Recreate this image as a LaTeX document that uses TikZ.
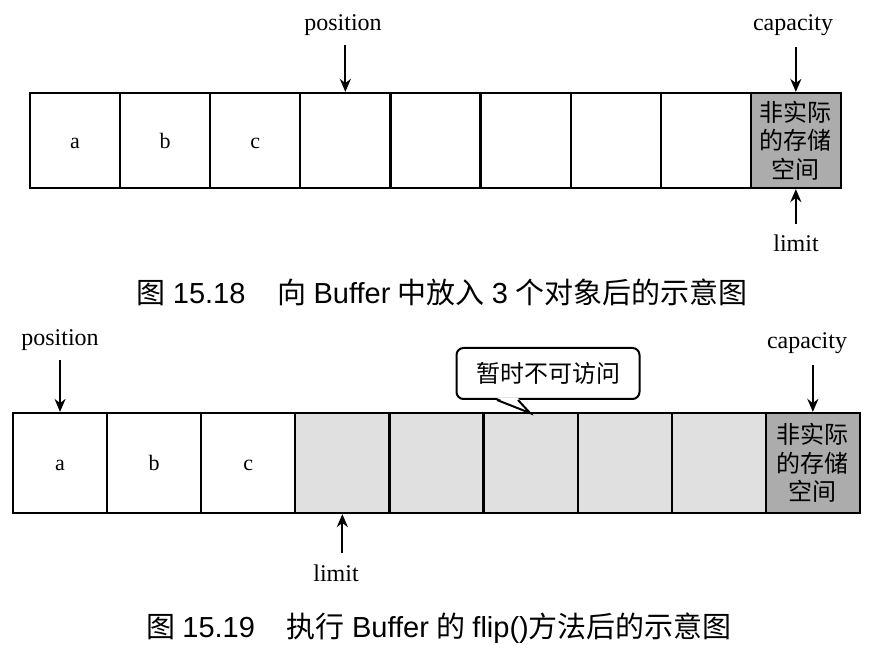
\documentclass[tikz,border=0pt]{standalone}
\usepackage{fontspec}
\setmainfont{Liberation Serif}
\newfontfamily\cjk{Noto Sans CJK SC}
\newfontfamily\arial{Liberation Sans}
\usetikzlibrary{arrows.meta}
\definecolor{lightg}{RGB}{224,224,224}
\definecolor{darkg}{RGB}{172,172,172}
\tikzset{
  cellA/.style={draw, line width=2.2pt, minimum width=90.1pt, minimum height=95pt, inner sep=0pt, font=\fontsize{22}{26}\selectfont, text height=16pt, text depth=0pt},
  cellB/.style={draw, line width=2.2pt, minimum width=94.1pt, minimum height=100pt, inner sep=0pt, font=\fontsize{22}{26}\selectfont, text height=16pt, text depth=0pt},
  cjkcell/.style={align=center, text height=, text depth=, font=\cjk\fontsize{24}{28.5}\selectfont},
  lbl/.style={inner sep=0pt, font=\fontsize{24}{28}\selectfont},
  arr/.style={-{Stealth[length=13pt,width=11pt]}, line width=2pt},
  capt/.style={inner sep=0pt, font=\fontsize{29}{34}\selectfont},
}
\begin{document}
\begin{tikzpicture}[x=1pt,y=-1pt]
\useasboundingbox (0,0) rectangle (879,660);
% ---------- top row ----------
\node[cellA] (t1) at (75.05,140.5) {a};
\node[cellA] (t2) at (165.15,140.5) {b};
\node[cellA] (t3) at (255.25,140.5) {c};
\node[cellA] (t4) at (345.35,140.5) {};
\node[cellA] (t5) at (435.45,140.5) {};
\node[cellA] (t6) at (525.55,140.5) {};
\node[cellA] (t7) at (615.65,140.5) {};
\node[cellA] (t8) at (705.75,140.5) {};
\node[cellA, fill=darkg, cjkcell] (t9) at (795.85,140.5) {非实际\\的存储\\空间};
\node[lbl] (pos1) at (343,25) {position};
\node[lbl] (cap1) at (793,25) {capacity};
\node[lbl] (lim1) at (796,243) {limit};
\coordinate (pos1a) at (345.35,45);
\coordinate (cap1a) at (795.85,47);
\coordinate (lim1a) at (795.85,224);
\draw[arr] (pos1a) -- (t4.north);
\draw[arr] (cap1a) -- (t9.north);
\draw[arr] (lim1a) -- (t9.south);
\node[capt] (fig1) at (442,292) {{\cjk 图} {\arial 15.18}\hspace{1.1em}{\cjk 向} {\arial Buffer} {\cjk 中放入} {\arial 3} {\cjk 个对象后的示意图}};
% ---------- bottom row ----------
\node[cellB] (b1) at (60.05,463) {a};
\node[cellB] (b2) at (154.15,463) {b};
\node[cellB] (b3) at (248.25,463) {c};
\node[cellB, fill=lightg] (b4) at (342.35,463) {};
\node[cellB, fill=lightg] (b5) at (436.45,463) {};
\node[cellB, fill=lightg] (b6) at (530.55,463) {};
\node[cellB, fill=lightg] (b7) at (624.65,463) {};
\node[cellB, fill=lightg] (b8) at (718.75,463) {};
\node[cellB, fill=darkg, cjkcell] (b9) at (812.85,463) {非实际\\的存储\\空间};
\node[lbl] (pos2) at (60,340) {position};
\node[lbl] (cap2) at (807,343) {capacity};
\node[lbl] (lim2) at (336,573) {limit};
\coordinate (pos2a) at (60.05,360);
\coordinate (cap2a) at (812.85,365);
\coordinate (lim2a) at (342.35,553);
\draw[arr] (pos2a) -- (b1.north);
\draw[arr] (cap2a) -- (b9.north);
\draw[arr] (lim2a) -- (b4.south);
% callout
\node[draw, line width=2pt, rounded corners=7pt, fill=white, minimum width=183pt, minimum height=51pt, inner sep=0pt, font=\cjk\fontsize{24}{28}\selectfont] (co) at (548,373.5) {暂时不可访问};
\coordinate (tip) at (530,413);
\path ([xshift=-51pt]co.south) coordinate (ta) ([xshift=-30pt]co.south) coordinate (tb);
\fill[white] ([yshift=2pt]ta) -- (tip) -- ([yshift=2pt]tb) -- cycle;
\draw[line width=2pt, line join=miter] (ta) -- (tip) -- (tb);
\node[capt] (fig2) at (439,628) {{\cjk 图} {\arial 15.19}\hspace{1.1em}{\cjk 执行} {\arial Buffer} {\cjk 的} {\arial flip()}{\cjk 方法后的示意图}};
\end{tikzpicture}
\end{document}
